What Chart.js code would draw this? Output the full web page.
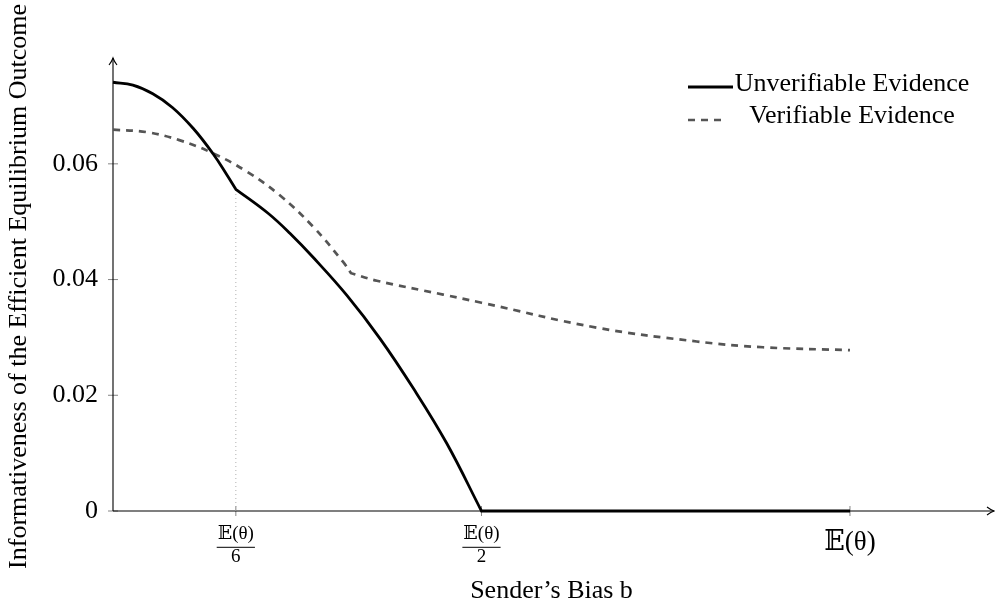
<!DOCTYPE html>
<html><head><meta charset="utf-8">
<script src="https://cdn.jsdelivr.net/npm/chart.js@4.4.1/dist/chart.umd.min.js"></script>
<style>html,body{margin:0;padding:0;background:#fff;}canvas{display:block;}</style>
</head><body>
<canvas id="c" width="995" height="611"></canvas>
<script>
// ---- data ----
// Kink points are listed twice so the smooth curve keeps a sharp corner there.
const seriesLabels = ['Unverifiable Evidence', 'Verifiable Evidence'];
const unverifiableX = [0, 0.027, 0.054, 0.081, 0.109, 0.136, 0.154, 0.1667, 0.1667, 0.210, 0.240, 0.2718, 0.3171, 0.3623, 0.4075, 0.4528, 0.5, 0.5, 1.0];
const unverifiableY = [0.0741, 0.0736, 0.0721, 0.0697, 0.0661, 0.0617, 0.0582, 0.0556, 0.0556, 0.0515, 0.0480, 0.0438, 0.0373, 0.0298, 0.0212, 0.0117, 0, 0, 0];
const verifiableX = [0, 0.045, 0.090, 0.136, 0.181, 0.226, 0.271, 0.3125, 0.323, 0.323, 0.358, 0.448, 0.500, 0.656, 0.792, 0.882, 1.0];
const verifiableY = [0.0659, 0.0655, 0.0641, 0.0618, 0.0587, 0.0546, 0.0492, 0.0430, 0.0411, 0.0411, 0.0398, 0.0374, 0.0360, 0.0317, 0.0293, 0.0283, 0.0278];
const guideX = [1/6, 1/6];
const guideY = [0, 0.0556];
const xTickValues = [1/6, 1/2, 1];
const xTickLabels = [['𝔼(θ)', '6'], ['𝔼(θ)', '2'], '𝔼(θ)'];
const yTickValues = [0, 0.02, 0.04, 0.06];
const yTickLabels = ['0', '0.02', '0.04', '0.06'];
const xTitle = 'Sender’s Bias b';
const yTitle = 'Informativeness of the Efficient Equilibrium Outcome';
const xMin = 0, xMax = 1.19, yMin = 0, yMax = 0.0776;

const SERIF = "'Liberation Serif','Times New Roman','DejaVu Serif',serif";
const X_TICK_PAD = 12;
const SMALL_FONT = {family: SERIF, size: 19, lineHeight: 1.2};
const BIG_FONT = {family: SERIF, size: 27, lineHeight: 1.5};

const toPts = (xs, ys) => xs.map((x, i) => ({x: x, y: ys[i]}));

const axesPlugin = {
  id: 'axesDecor',
  beforeDatasetsDraw(chart) {
    const ctx = chart.ctx, xs = chart.scales.x, ys = chart.scales.y, ca = chart.chartArea;
    const x0 = xs.getPixelForValue(xMin), y0 = ys.getPixelForValue(yMin);
    const top = ca.top - 4, right = ca.right + 4;
    ctx.save();
    ctx.strokeStyle = '#666'; ctx.lineWidth = 0.8;
    ctx.beginPath();
    ys.ticks.forEach(t => { const p = ys.getPixelForValue(t.value); ctx.moveTo(x0 - 5, p); ctx.lineTo(x0 + 5, p); });
    xs.ticks.forEach(t => { const p = xs.getPixelForValue(t.value); ctx.moveTo(p, y0 - 5); ctx.lineTo(p, y0 + 5); });
    ctx.stroke();
    ctx.strokeStyle = '#000'; ctx.lineWidth = 1.1;
    ctx.beginPath();
    ctx.moveTo(x0, y0); ctx.lineTo(x0, top);
    ctx.moveTo(x0, y0); ctx.lineTo(right, y0);
    ctx.stroke();
    ctx.beginPath();
    ctx.moveTo(x0 - 4, top + 7); ctx.quadraticCurveTo(x0 - 1, top + 3, x0, top);
    ctx.quadraticCurveTo(x0 + 1, top + 3, x0 + 4, top + 7);
    ctx.moveTo(right - 7, y0 - 4); ctx.quadraticCurveTo(right - 3, y0 - 1, right, y0);
    ctx.quadraticCurveTo(right - 3, y0 + 1, right - 7, y0 + 4);
    ctx.stroke();
    ctx.restore();
  },
  afterDraw(chart) {
    const ctx = chart.ctx, xs = chart.scales.x, ys = chart.scales.y, ca = chart.chartArea;
    const y0 = ys.getPixelForValue(yMin);
    ctx.save();
    ctx.strokeStyle = '#000'; ctx.lineWidth = 1;
    ctx.font = SMALL_FONT.size + 'px ' + SERIF;
    xs.ticks.forEach((t, i) => {
      const lab = xTickLabels[i];
      if (Array.isArray(lab)) {
        const p = xs.getPixelForValue(t.value);
        const w = ctx.measureText(lab[0]).width + 2;
        const yb = y0 + X_TICK_PAD + SMALL_FONT.size * SMALL_FONT.lineHeight + 1.5;
        ctx.beginPath(); ctx.moveTo(p - w / 2, yb); ctx.lineTo(p + w / 2, yb); ctx.stroke();
      }
    });
    const ds = chart.data.datasets;
    const lineX = ca.right - 302;
    const textX = ca.right - 138;
    const rows = [{i: 0, ly: ca.top + 25, ty: ca.top + 22, len: 45}, {i: 1, ly: ca.top + 58, ty: ca.top + 54, len: 35}];
    ctx.font = '26px ' + SERIF;
    ctx.textAlign = 'center'; ctx.textBaseline = 'middle'; ctx.fillStyle = '#000';
    rows.forEach(r => {
      const d = ds[r.i];
      ctx.save();
      ctx.strokeStyle = d.borderColor; ctx.lineWidth = d.borderWidth;
      ctx.setLineDash(d.borderDash || []);
      ctx.beginPath(); ctx.moveTo(lineX, r.ly); ctx.lineTo(lineX + r.len, r.ly); ctx.stroke();
      ctx.restore();
      ctx.fillText(d.label, textX, r.ty);
    });
    ctx.restore();
  }
};

new Chart(document.getElementById('c'), {
  type: 'line',
  data: {
    datasets: [
      {label: seriesLabels[0], data: toPts(unverifiableX, unverifiableY), borderColor: '#000', borderWidth: 2.8,
       pointRadius: 0, tension: 0.4, fill: false, order: 1, clip: false},
      {label: seriesLabels[1], data: toPts(verifiableX, verifiableY), borderColor: '#555', borderWidth: 2.7,
       borderDash: [7, 6], pointRadius: 0, tension: 0.4, fill: false, order: 2, clip: false},
      {label: 'guide', data: toPts(guideX, guideY), borderColor: '#b0b0b0', borderWidth: 1,
       borderDash: [1, 3], pointRadius: 0, tension: 0, fill: false, order: 3, clip: false}
    ]
  },
  options: {
    responsive: false,
    animation: false,
    events: [],
    layout: {padding: {top: 62, right: 5, bottom: 0, left: 0}},
    plugins: {legend: {display: false}, tooltip: {enabled: false}},
    scales: {
      x: {
        type: 'linear', min: xMin, max: xMax,
        grid: {display: false, drawTicks: false}, border: {display: false},
        afterBuildTicks: s => { s.ticks = xTickValues.map(v => ({value: v})); },
        afterFit: s => { s.height = 100; },
        ticks: {
          autoSkip: false, maxRotation: 0, minRotation: 0, padding: X_TICK_PAD, color: '#000',
          callback: (v, i) => xTickLabels[i],
          font: c => (c.tick && c.tick.value === 1) ? BIG_FONT : SMALL_FONT
        },
        title: {display: true, text: xTitle, color: '#000', font: {family: SERIF, size: 26}, padding: {top: 0, bottom: 4}}
      },
      y: {
        type: 'linear', min: yMin, max: yMax,
        grid: {display: false, drawTicks: false}, border: {display: false},
        afterBuildTicks: s => { s.ticks = yTickValues.map(v => ({value: v})); },
        afterFit: s => { s.width = 113; },
        ticks: {padding: 15, color: '#000', font: {family: SERIF, size: 26}, callback: (v, i) => yTickLabels[i]},
        title: {display: true, text: yTitle, color: '#000', font: {family: SERIF, size: 26}, padding: {top: 4, bottom: 0}}
      }
    }
  },
  plugins: [axesPlugin]
});
</script>
</body></html>
